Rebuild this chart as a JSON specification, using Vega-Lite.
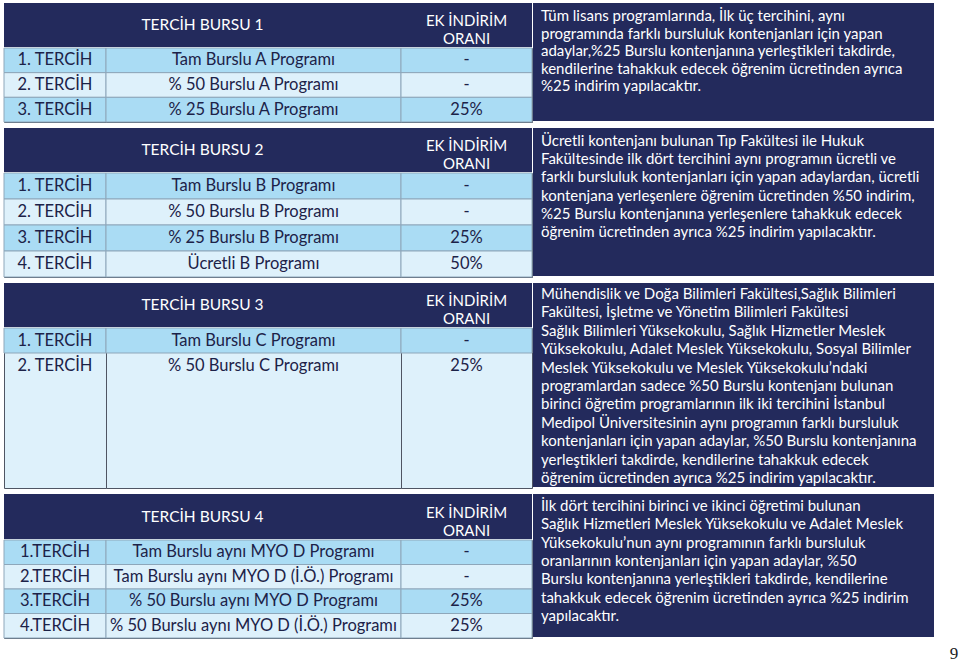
{
  "$schema": "https://vega.github.io/schema/vega-lite/v6.json",
  "padding": {"left": 3, "top": 3, "right": 0, "bottom": 0},
  "background": "white",
  "config": {"concat": {"spacing": 0}, "view": {"stroke": null}},
  "datasets": {
    "headers": [
      {"section": 1, "title": "TERCİH BURSU 1", "ratioHeader": "EK İNDİRİM\nORANI"},
      {"section": 2, "title": "TERCİH BURSU 2", "ratioHeader": "EK İNDİRİM\nORANI"},
      {"section": 3, "title": "TERCİH BURSU 3", "ratioHeader": "EK İNDİRİM\nORANI"},
      {"section": 4, "title": "TERCİH BURSU 4", "ratioHeader": "EK İNDİRİM\nORANI"}
    ],
    "rows": [
      {"section": 1, "row": 1, "tercih": "1. TERCİH", "program": "Tam Burslu A Programı", "oran": "-"},
      {"section": 1, "row": 2, "tercih": "2. TERCİH", "program": "% 50 Burslu A Programı", "oran": "-"},
      {"section": 1, "row": 3, "tercih": "3. TERCİH", "program": "% 25 Burslu A Programı", "oran": "25%"},
      {"section": 2, "row": 1, "tercih": "1. TERCİH", "program": "Tam Burslu B Programı", "oran": "-"},
      {"section": 2, "row": 2, "tercih": "2. TERCİH", "program": "% 50 Burslu B Programı", "oran": "-"},
      {"section": 2, "row": 3, "tercih": "3. TERCİH", "program": "% 25 Burslu B Programı", "oran": "25%"},
      {"section": 2, "row": 4, "tercih": "4. TERCİH", "program": "Ücretli B Programı", "oran": "50%"},
      {"section": 3, "row": 1, "tercih": "1. TERCİH", "program": "Tam Burslu C Programı", "oran": "-"},
      {"section": 3, "row": 2, "tercih": "2. TERCİH", "program": "% 50 Burslu C Programı", "oran": "25%"},
      {"section": 4, "row": 1, "tercih": "1.TERCİH", "program": "Tam Burslu aynı MYO D Programı", "oran": "-"},
      {"section": 4, "row": 2, "tercih": "2.TERCİH", "program": "Tam Burslu aynı MYO D (İ.Ö.) Programı", "oran": "-"},
      {"section": 4, "row": 3, "tercih": "3.TERCİH", "program": "% 50 Burslu aynı MYO D Programı", "oran": "25%"},
      {"section": 4, "row": 4, "tercih": "4.TERCİH", "program": "% 50 Burslu aynı MYO  D (İ.Ö.) Programı", "oran": "25%"}
    ],
    "notes": [
      {"section": 1, "text": "Tüm lisans programlarında, İlk üç tercihini, aynı\nprogramında farklı bursluluk kontenjanları için yapan\nadaylar,%25 Burslu kontenjanına yerleştikleri takdirde,\nkendilerine tahakkuk edecek öğrenim ücretinden ayrıca\n%25 indirim yapılacaktır."},
      {"section": 2, "text": "Ücretli kontenjanı bulunan Tıp Fakültesi ile Hukuk\nFakültesinde ilk dört tercihini aynı programın ücretli ve\nfarklı bursluluk kontenjanları için  yapan adaylardan, ücretli\nkontenjana yerleşenlere öğrenim ücretinden  %50  indirim,\n%25 Burslu kontenjanına yerleşenlere tahakkuk edecek\nöğrenim ücretinden ayrıca %25 indirim yapılacaktır."},
      {"section": 3, "text": "Mühendislik ve Doğa Bilimleri Fakültesi,Sağlık Bilimleri\nFakültesi, İşletme ve Yönetim Bilimleri Fakültesi\nSağlık Bilimleri Yüksekokulu, Sağlık Hizmetler Meslek\nYüksekokulu, Adalet Meslek Yüksekokulu, Sosyal Bilimler\nMeslek Yüksekokulu ve Meslek Yüksekokulu’ndaki\nprogramlardan sadece %50 Burslu kontenjanı bulunan\nbirinci öğretim programlarının ilk iki tercihini İstanbul\nMedipol Üniversitesinin aynı programın farklı bursluluk\nkontenjanları için yapan adaylar, %50 Burslu kontenjanına\nyerleştikleri takdirde, kendilerine tahakkuk edecek\nöğrenim ücretinden ayrıca %25 indirim yapılacaktır."},
      {"section": 4, "text": "İlk dört tercihini birinci ve ikinci öğretimi bulunan\nSağlık Hizmetleri Meslek Yüksekokulu ve Adalet Meslek\nYüksekokulu’nun aynı programının farklı bursluluk\noranlarının kontenjanları için yapan adaylar, %50\nBurslu kontenjanına yerleştikleri takdirde, kendilerine\ntahakkuk edecek öğrenim ücretinden ayrıca %25 indirim\nyapılacaktır."}
    ],
    "page": [{"label": "9"}]
  },
  "spacing": 5,
  "vconcat": [
    {
      "spacing": -2,
      "hconcat": [
        {"spacing": 0, "vconcat": [
          {"spacing": 0, "bounds": "flush", "hconcat": [
            {"width": 397, "height": 44, "data": {"name": "headers"}, "transform": [{"filter": "datum.section == 1"}], "view": {"fill": "#232a5c", "stroke": null}, "mark": {"type": "text", "font": "Lato", "fontSize": 15.5, "color": "white"}, "encoding": {"text": {"field": "title"}}},
            {"width": 131, "height": 44, "data": {"name": "headers"}, "transform": [{"filter": "datum.section == 1"}], "view": {"fill": "#232a5c", "stroke": null}, "mark": {"type": "text", "font": "Lato", "fontSize": 15, "color": "white", "lineBreak": "\n", "lineHeight": 18, "dy": -4}, "encoding": {"text": {"field": "ratioHeader"}}}
          ]},
          {"spacing": 0, "bounds": "flush", "hconcat": [
            {"width": 102, "height": 74, "data": {"name": "rows"}, "transform": [{"filter": "datum.section == 1"}], "view": {"fill": "#def1fb", "stroke": "#4f5563"},
             "encoding": {"y": {"field": "row", "type": "ordinal", "axis": null, "scale": {"paddingInner": 0, "paddingOuter": 0}}},
             "layer": [
               {"mark": {"type": "rect", "stroke": "#8ea7ba", "strokeWidth": 1}, "encoding": {"color": {"field": "row", "type": "ordinal", "legend": null, "scale": {"domain": [1, 2, 3, 4], "range": ["#aadcf4", "#def1fb", "#aadcf4", "#def1fb"]}}}},
               {"mark": {"type": "text", "font": "Lato", "fontSize": 16.5, "color": "#1c2248"}, "encoding": {"text": {"field": "tercih"}}}
             ]},
            {"width": 295, "height": 74, "data": {"name": "rows"}, "transform": [{"filter": "datum.section == 1"}], "view": {"fill": "#def1fb", "stroke": "#4f5563"},
             "encoding": {"y": {"field": "row", "type": "ordinal", "axis": null, "scale": {"paddingInner": 0, "paddingOuter": 0}}},
             "layer": [
               {"mark": {"type": "rect", "stroke": "#8ea7ba", "strokeWidth": 1}, "encoding": {"color": {"field": "row", "type": "ordinal", "legend": null, "scale": {"domain": [1, 2, 3, 4], "range": ["#aadcf4", "#def1fb", "#aadcf4", "#def1fb"]}}}},
               {"mark": {"type": "text", "font": "Lato", "fontSize": 16.5, "color": "#1c2248"}, "encoding": {"text": {"field": "program"}}}
             ]},
            {"width": 131, "height": 74, "data": {"name": "rows"}, "transform": [{"filter": "datum.section == 1"}], "view": {"fill": "#def1fb", "stroke": "#4f5563"},
             "encoding": {"y": {"field": "row", "type": "ordinal", "axis": null, "scale": {"paddingInner": 0, "paddingOuter": 0}}},
             "layer": [
               {"mark": {"type": "rect", "stroke": "#8ea7ba", "strokeWidth": 1}, "encoding": {"color": {"field": "row", "type": "ordinal", "legend": null, "scale": {"domain": [1, 2, 3, 4], "range": ["#aadcf4", "#def1fb", "#aadcf4", "#def1fb"]}}}},
               {"mark": {"type": "text", "font": "Lato", "fontSize": 16.5, "color": "#1c2248"}, "encoding": {"text": {"field": "oran"}}}
             ]}
          ]}
        ]},
        {"width": 401, "height": 118, "data": {"name": "notes"}, "transform": [{"filter": "datum.section == 1"}], "view": {"fill": "#232a5c", "stroke": null},
         "mark": {"type": "text", "font": "Lato", "fontSize": 15, "color": "white", "align": "left", "baseline": "top", "lineBreak": "\n", "lineHeight": 17.6},
         "encoding": {"text": {"field": "text"}, "x": {"value": 8}, "y": {"value": 6}}}
      ]
    },
    {
      "spacing": -2,
      "hconcat": [
        {"spacing": 0, "vconcat": [
          {"spacing": 0, "bounds": "flush", "hconcat": [
            {"width": 397, "height": 44, "data": {"name": "headers"}, "transform": [{"filter": "datum.section == 2"}], "view": {"fill": "#232a5c", "stroke": null}, "mark": {"type": "text", "font": "Lato", "fontSize": 15.5, "color": "white"}, "encoding": {"text": {"field": "title"}}},
            {"width": 131, "height": 44, "data": {"name": "headers"}, "transform": [{"filter": "datum.section == 2"}], "view": {"fill": "#232a5c", "stroke": null}, "mark": {"type": "text", "font": "Lato", "fontSize": 15, "color": "white", "lineBreak": "\n", "lineHeight": 18, "dy": -4}, "encoding": {"text": {"field": "ratioHeader"}}}
          ]},
          {"spacing": 0, "bounds": "flush", "hconcat": [
            {"width": 102, "height": 104, "data": {"name": "rows"}, "transform": [{"filter": "datum.section == 2"}], "view": {"fill": "#def1fb", "stroke": "#4f5563"},
             "encoding": {"y": {"field": "row", "type": "ordinal", "axis": null, "scale": {"paddingInner": 0, "paddingOuter": 0}}},
             "layer": [
               {"mark": {"type": "rect", "stroke": "#8ea7ba", "strokeWidth": 1}, "encoding": {"color": {"field": "row", "type": "ordinal", "legend": null, "scale": {"domain": [1, 2, 3, 4], "range": ["#aadcf4", "#def1fb", "#aadcf4", "#def1fb"]}}}},
               {"mark": {"type": "text", "font": "Lato", "fontSize": 16.5, "color": "#1c2248"}, "encoding": {"text": {"field": "tercih"}}}
             ]},
            {"width": 295, "height": 104, "data": {"name": "rows"}, "transform": [{"filter": "datum.section == 2"}], "view": {"fill": "#def1fb", "stroke": "#4f5563"},
             "encoding": {"y": {"field": "row", "type": "ordinal", "axis": null, "scale": {"paddingInner": 0, "paddingOuter": 0}}},
             "layer": [
               {"mark": {"type": "rect", "stroke": "#8ea7ba", "strokeWidth": 1}, "encoding": {"color": {"field": "row", "type": "ordinal", "legend": null, "scale": {"domain": [1, 2, 3, 4], "range": ["#aadcf4", "#def1fb", "#aadcf4", "#def1fb"]}}}},
               {"mark": {"type": "text", "font": "Lato", "fontSize": 16.5, "color": "#1c2248"}, "encoding": {"text": {"field": "program"}}}
             ]},
            {"width": 131, "height": 104, "data": {"name": "rows"}, "transform": [{"filter": "datum.section == 2"}], "view": {"fill": "#def1fb", "stroke": "#4f5563"},
             "encoding": {"y": {"field": "row", "type": "ordinal", "axis": null, "scale": {"paddingInner": 0, "paddingOuter": 0}}},
             "layer": [
               {"mark": {"type": "rect", "stroke": "#8ea7ba", "strokeWidth": 1}, "encoding": {"color": {"field": "row", "type": "ordinal", "legend": null, "scale": {"domain": [1, 2, 3, 4], "range": ["#aadcf4", "#def1fb", "#aadcf4", "#def1fb"]}}}},
               {"mark": {"type": "text", "font": "Lato", "fontSize": 16.5, "color": "#1c2248"}, "encoding": {"text": {"field": "oran"}}}
             ]}
          ]}
        ]},
        {"width": 401, "height": 148, "data": {"name": "notes"}, "transform": [{"filter": "datum.section == 2"}], "view": {"fill": "#232a5c", "stroke": null},
         "mark": {"type": "text", "font": "Lato", "fontSize": 15, "color": "white", "align": "left", "baseline": "top", "lineBreak": "\n", "lineHeight": 18.2},
         "encoding": {"text": {"field": "text"}, "x": {"value": 8}, "y": {"value": 6}}}
      ]
    },
    {
      "spacing": -2,
      "hconcat": [
        {"spacing": 0, "vconcat": [
          {"spacing": 0, "bounds": "flush", "hconcat": [
            {"width": 397, "height": 44, "data": {"name": "headers"}, "transform": [{"filter": "datum.section == 3"}], "view": {"fill": "#232a5c", "stroke": null}, "mark": {"type": "text", "font": "Lato", "fontSize": 15.5, "color": "white"}, "encoding": {"text": {"field": "title"}}},
            {"width": 131, "height": 44, "data": {"name": "headers"}, "transform": [{"filter": "datum.section == 3"}], "view": {"fill": "#232a5c", "stroke": null}, "mark": {"type": "text", "font": "Lato", "fontSize": 15, "color": "white", "lineBreak": "\n", "lineHeight": 18, "dy": -4}, "encoding": {"text": {"field": "ratioHeader"}}}
          ]},
          {"spacing": 0, "bounds": "flush", "hconcat": [
            {"width": 102, "height": 160, "data": {"name": "rows"}, "transform": [{"filter": "datum.section == 3"}], "view": {"fill": "#def1fb", "stroke": "#4f5563"},
             "encoding": {"y": {"field": "row", "type": "ordinal", "axis": null, "scale": {"domain": [1, 2, 3, 4, 5, 6], "paddingInner": 0, "paddingOuter": 0.2, "align": 0}}},
             "layer": [
               {"transform": [{"filter": "datum.row == 1"}], "mark": {"type": "rect", "stroke": "#8ea7ba", "strokeWidth": 1}, "encoding": {"color": {"field": "row", "type": "ordinal", "legend": null, "scale": {"domain": [1, 2, 3, 4], "range": ["#aadcf4", "#def1fb", "#aadcf4", "#def1fb"]}}}},
               {"mark": {"type": "text", "font": "Lato", "fontSize": 16.5, "color": "#1c2248"}, "encoding": {"text": {"field": "tercih"}}}
             ]},
            {"width": 295, "height": 160, "data": {"name": "rows"}, "transform": [{"filter": "datum.section == 3"}], "view": {"fill": "#def1fb", "stroke": "#4f5563"},
             "encoding": {"y": {"field": "row", "type": "ordinal", "axis": null, "scale": {"domain": [1, 2, 3, 4, 5, 6], "paddingInner": 0, "paddingOuter": 0.2, "align": 0}}},
             "layer": [
               {"transform": [{"filter": "datum.row == 1"}], "mark": {"type": "rect", "stroke": "#8ea7ba", "strokeWidth": 1}, "encoding": {"color": {"field": "row", "type": "ordinal", "legend": null, "scale": {"domain": [1, 2, 3, 4], "range": ["#aadcf4", "#def1fb", "#aadcf4", "#def1fb"]}}}},
               {"mark": {"type": "text", "font": "Lato", "fontSize": 16.5, "color": "#1c2248"}, "encoding": {"text": {"field": "program"}}}
             ]},
            {"width": 131, "height": 160, "data": {"name": "rows"}, "transform": [{"filter": "datum.section == 3"}], "view": {"fill": "#def1fb", "stroke": "#4f5563"},
             "encoding": {"y": {"field": "row", "type": "ordinal", "axis": null, "scale": {"domain": [1, 2, 3, 4, 5, 6], "paddingInner": 0, "paddingOuter": 0.2, "align": 0}}},
             "layer": [
               {"transform": [{"filter": "datum.row == 1"}], "mark": {"type": "rect", "stroke": "#8ea7ba", "strokeWidth": 1}, "encoding": {"color": {"field": "row", "type": "ordinal", "legend": null, "scale": {"domain": [1, 2, 3, 4], "range": ["#aadcf4", "#def1fb", "#aadcf4", "#def1fb"]}}}},
               {"mark": {"type": "text", "font": "Lato", "fontSize": 16.5, "color": "#1c2248"}, "encoding": {"text": {"field": "oran"}}}
             ]}
          ]}
        ]},
        {"width": 401, "height": 204, "data": {"name": "notes"}, "transform": [{"filter": "datum.section == 3"}], "view": {"fill": "#232a5c", "stroke": null},
         "mark": {"type": "text", "font": "Lato", "fontSize": 15, "color": "white", "align": "left", "baseline": "top", "lineBreak": "\n", "lineHeight": 18.4},
         "encoding": {"text": {"field": "text"}, "x": {"value": 8}, "y": {"value": 4}}}
      ]
    },
    {
      "spacing": -2,
      "hconcat": [
        {"spacing": 0, "vconcat": [
          {"spacing": 0, "bounds": "flush", "hconcat": [
            {"width": 397, "height": 45, "data": {"name": "headers"}, "transform": [{"filter": "datum.section == 4"}], "view": {"fill": "#232a5c", "stroke": null}, "mark": {"type": "text", "font": "Lato", "fontSize": 15.5, "color": "white"}, "encoding": {"text": {"field": "title"}}},
            {"width": 131, "height": 45, "data": {"name": "headers"}, "transform": [{"filter": "datum.section == 4"}], "view": {"fill": "#232a5c", "stroke": null}, "mark": {"type": "text", "font": "Lato", "fontSize": 15, "color": "white", "lineBreak": "\n", "lineHeight": 18, "dy": -4}, "encoding": {"text": {"field": "ratioHeader"}}}
          ]},
          {"spacing": 0, "bounds": "flush", "hconcat": [
            {"width": 102, "height": 98, "data": {"name": "rows"}, "transform": [{"filter": "datum.section == 4"}], "view": {"fill": "#def1fb", "stroke": "#4f5563"},
             "encoding": {"y": {"field": "row", "type": "ordinal", "axis": null, "scale": {"paddingInner": 0, "paddingOuter": 0}}},
             "layer": [
               {"mark": {"type": "rect", "stroke": "#8ea7ba", "strokeWidth": 1}, "encoding": {"color": {"field": "row", "type": "ordinal", "legend": null, "scale": {"domain": [1, 2, 3, 4], "range": ["#aadcf4", "#def1fb", "#aadcf4", "#def1fb"]}}}},
               {"mark": {"type": "text", "font": "Lato", "fontSize": 16.5, "color": "#1c2248"}, "encoding": {"text": {"field": "tercih"}}}
             ]},
            {"width": 295, "height": 98, "data": {"name": "rows"}, "transform": [{"filter": "datum.section == 4"}], "view": {"fill": "#def1fb", "stroke": "#4f5563"},
             "encoding": {"y": {"field": "row", "type": "ordinal", "axis": null, "scale": {"paddingInner": 0, "paddingOuter": 0}}},
             "layer": [
               {"mark": {"type": "rect", "stroke": "#8ea7ba", "strokeWidth": 1}, "encoding": {"color": {"field": "row", "type": "ordinal", "legend": null, "scale": {"domain": [1, 2, 3, 4], "range": ["#aadcf4", "#def1fb", "#aadcf4", "#def1fb"]}}}},
               {"mark": {"type": "text", "font": "Lato", "fontSize": 16.5, "color": "#1c2248"}, "encoding": {"text": {"field": "program"}}}
             ]},
            {"width": 131, "height": 98, "data": {"name": "rows"}, "transform": [{"filter": "datum.section == 4"}], "view": {"fill": "#def1fb", "stroke": "#4f5563"},
             "encoding": {"y": {"field": "row", "type": "ordinal", "axis": null, "scale": {"paddingInner": 0, "paddingOuter": 0}}},
             "layer": [
               {"mark": {"type": "rect", "stroke": "#8ea7ba", "strokeWidth": 1}, "encoding": {"color": {"field": "row", "type": "ordinal", "legend": null, "scale": {"domain": [1, 2, 3, 4], "range": ["#aadcf4", "#def1fb", "#aadcf4", "#def1fb"]}}}},
               {"mark": {"type": "text", "font": "Lato", "fontSize": 16.5, "color": "#1c2248"}, "encoding": {"text": {"field": "oran"}}}
             ]}
          ]}
        ]},
        {"width": 401, "height": 143, "data": {"name": "notes"}, "transform": [{"filter": "datum.section == 4"}], "view": {"fill": "#232a5c", "stroke": null},
         "mark": {"type": "text", "font": "Lato", "fontSize": 15, "color": "white", "align": "left", "baseline": "top", "lineBreak": "\n", "lineHeight": 18.3},
         "encoding": {"text": {"field": "text"}, "x": {"value": 8}, "y": {"value": 5}}}
      ]
    },
    {"width": 957, "height": 19, "data": {"name": "page"}, "mark": {"type": "text", "font": "Liberation Serif", "fontSize": 17, "color": "#222222"}, "encoding": {"text": {"field": "label"}, "x": {"value": 950}}}
  ]
}
